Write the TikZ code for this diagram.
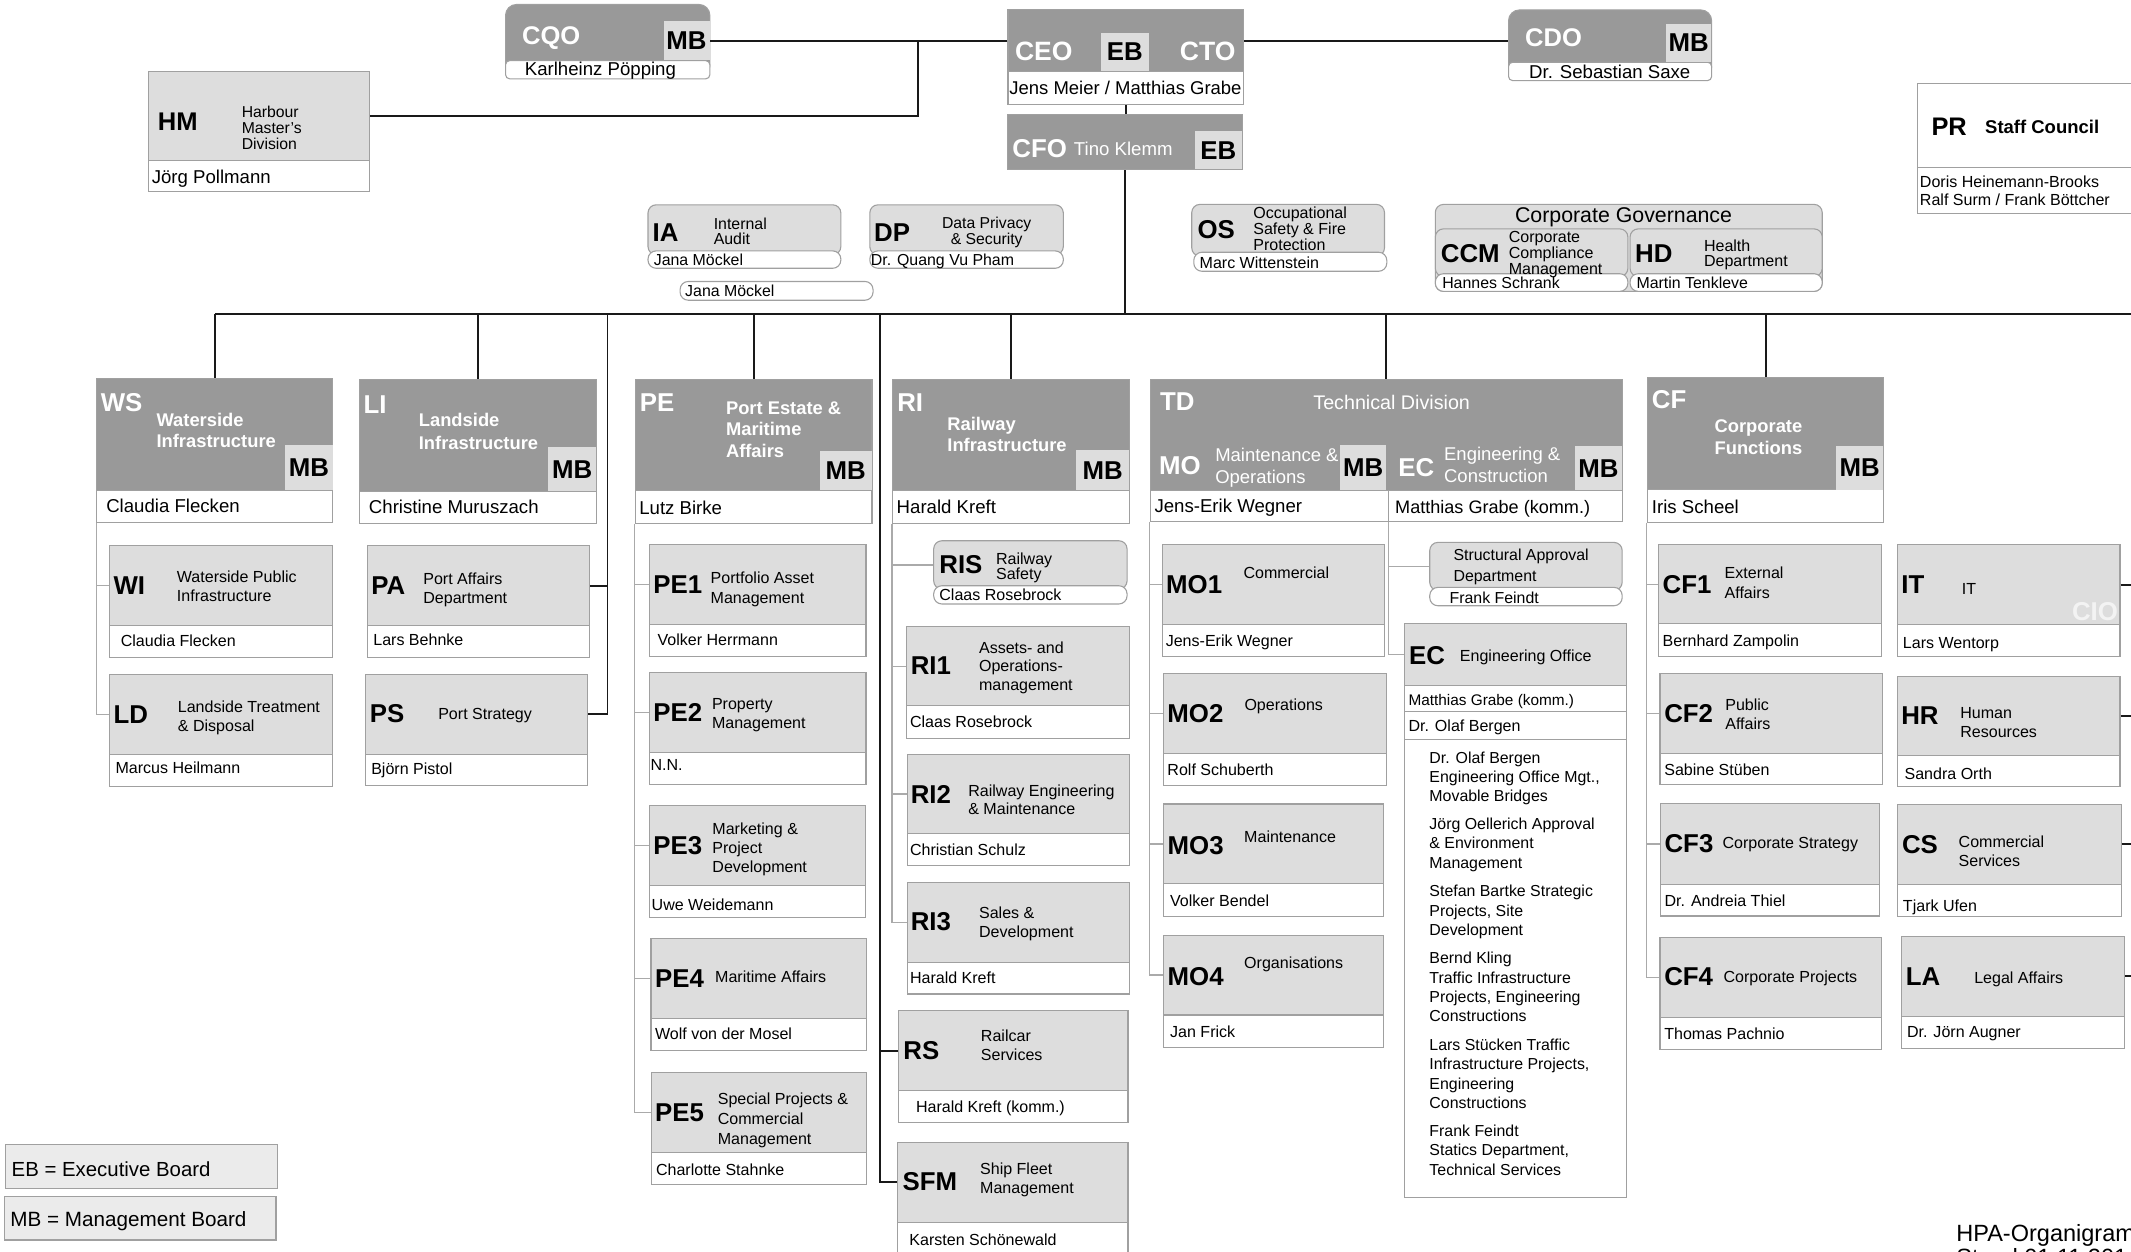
\documentclass[tikz,border=0pt]{standalone}
\usepackage{fontspec}
\setmainfont{Liberation Sans}
\definecolor{hdr}{RGB}{153,153,153}
\definecolor{lt}{RGB}{221,221,221}
\definecolor{mbc}{RGB}{221,221,221}
\definecolor{bd}{RGB}{160,160,160}
\definecolor{lg}{RGB}{235,235,235}
\definecolor{ln}{RGB}{25,25,25}
\definecolor{sl}{RGB}{170,170,170}
\definecolor{cio}{RGB}{243,243,243}
\tikzset{
 hdrbox/.style={draw=bd, fill=hdr, line width=0.8pt},
 ltbox/.style={draw=bd, fill=lt, line width=0.8pt},
 wbox/.style={draw=bd, fill=white, line width=0.8pt},
 mbbox/.style={fill=mbc, draw=none},
 legbox/.style={draw=bd, fill=lg, line width=0.8pt},
 mainline/.style={draw=ln, line width=1.4pt},
 subline/.style={draw=sl, line width=0.9pt},
 lbl/.style={inner sep=0pt, font={\fontsize{19}{19}\selectfont\bfseries}},
}
\newcommand\B[6]{\node[#6, anchor=north west, inner sep=0pt, minimum width={#4-#2}, minimum height={#5-#3}] (#1) at (#2,#3) {};}
\newcommand\T[7]{\node[anchor=north west, inner sep=0pt, align=left, font={\fontsize{#4}{#5}\selectfont}, #6] (#1) at (#2,{#3-0.36*#4}) {#7};}
\newcommand\myU[6]{\B{#1h}{#2}{#3}{#5}{#4}{ltbox}\B{#1n}{#2}{#4}{#5}{#6}{wbox}}
\newcommand\myD[6]{\B{#1h}{#2}{#3}{#5}{#4}{hdrbox}\B{#1n}{#2}{#4}{#5}{#6}{wbox}}
\newcommand\myC[4]{\T{#1}{#2}{#3}{19}{19}{}{\bfseries #4}}
\newcommand\myCw[4]{\T{#1}{#2}{#3}{19}{19}{text=white}{\bfseries #4}}
\newcommand\myTi[5]{\T{#1}{#2}{#3}{11.8}{#4}{}{#5}}
\newcommand\myNm[4]{\T{#1}{#2}{#3}{11.8}{12}{}{#4}}
\begin{document}
\begin{tikzpicture}[x=1pt,y=-1pt]
\useasboundingbox (0,0) rectangle (1568,921);
\fill[white] (0,0) rectangle (1568,921);
\clip (0,0) rectangle (1568,921);

% ---------- top row ----------
\B{CQOh}{371.6}{2.9}{521.9}{56}{hdrbox, rounded corners=8pt}
\B{CQOn}{371.6}{44.2}{521.9}{57.6}{wbox, rounded corners=3pt}
\B{CQOmb}{488}{15.5}{521.9}{44.2}{mbbox}
\T{CQOc}{384}{26.5}{18.8}{19}{text=white}{\bfseries CQO}
\node[lbl] (CQOmbt) at (CQOmb.center) {MB};
\T{CQOp}{386}{50.3}{13.7}{14}{}{Karlheinz Pöpping}

\B{CEOh}{741.3}{6.9}{914.6}{52}{hdrbox}
\B{CEOn}{741.3}{52}{914.6}{76.8}{wbox}
\B{CEOeb}{810}{23.8}{845}{52}{mbbox}
\T{CEOc}{746.7}{38}{19.5}{20}{text=white}{\bfseries CEO}
\T{CTOc}{868}{38}{19.5}{20}{text=white}{\bfseries CTO}
\node[lbl] (CEOebt) at (CEOeb.center) {EB};
\T{CEOp}{742.5}{64.5}{13.6}{14}{}{Jens Meier / Matthias Grabe}

\B{CFOh}{741}{83.9}{913.6}{124.4}{hdrbox}
\B{CFOeb}{879}{96.4}{913.6}{124.4}{mbbox}
\T{CFOc}{744.7}{109}{19}{19}{text=white}{\bfseries CFO}
\T{CFOp}{790}{109}{13.7}{14}{text=white}{Tino Klemm}
\node[lbl] (CFOebt) at (CFOeb.center) {EB};

\B{CDOh}{1109.6}{6.9}{1259}{57}{hdrbox, rounded corners=8pt}
\B{CDOn}{1109.6}{45.4}{1259}{58.9}{wbox, rounded corners=3pt}
\B{CDOmb}{1225.5}{17.2}{1259}{45.4}{mbbox}
\T{CDOc}{1122}{27.5}{18.8}{19}{text=white}{\bfseries CDO}
\node[lbl] (CDOmbt) at (CDOmb.center) {MB};
\T{CDOp}{1125}{52.7}{13.7}{14}{}{Dr. Sebastian Saxe}

\B{HMh}{108.8}{52.5}{271.3}{117.7}{ltbox}
\B{HMn}{108.8}{117.7}{271.3}{140.6}{wbox}
\T{HMc}{116}{89.5}{18.8}{19}{}{\bfseries HM}
\T{HMt}{177.7}{82.2}{11.6}{11.75}{}{Harbour\\Master’s\\Division}
\T{HMp}{111.5}{130}{13.7}{14}{}{Jörg Pollmann}

\B{PRh}{1410.7}{61.3}{1600}{122.7}{wbox}
\B{PRn}{1410.7}{122.7}{1600}{157}{wbox}
\T{PRc}{1421}{93.2}{18.7}{19}{}{\bfseries PR}
\T{PRt}{1460.5}{93.2}{13.6}{14}{}{\bfseries Staff Council}
\T{PRp}{1412.5}{133.2}{11.8}{13.5}{}{Doris Heinemann-Brooks\\Ralf Surm / Frank Böttcher}

% ---------- staff units ----------
\B{IAh}{476.4}{150.3}{618.3}{187}{ltbox, rounded corners=6pt}
\B{IAn}{476.4}{184.2}{618.3}{197}{wbox, rounded corners=6pt}
\T{IAc}{480}{171}{19}{19}{}{\bfseries IA}
\T{IAt}{525}{164.5}{11.7}{11.1}{}{Internal\\Audit}
\T{IAp}{480.9}{190.8}{11.7}{12}{}{Jana Möckel}

\B{DPh}{639.6}{150.3}{782}{187}{ltbox, rounded corners=6pt}
\B{DPn}{639.6}{184.2}{782}{197}{wbox, rounded corners=6pt}
\T{DPc}{643}{171}{19}{19}{}{\bfseries DP}
\T{DPt}{726}{163.8}{11.6}{11.8}{anchor=north, align=center}{Data Privacy\\\& Security}
\T{DPp}{640.6}{190.8}{11.7}{12}{}{Dr. Quang Vu Pham}

\B{IAtwo}{500}{206.7}{642}{220.5}{wbox, rounded corners=6pt}
\T{IAtwop}{504}{213.6}{11.7}{12}{}{Jana Möckel}

\B{OSh}{876.5}{150}{1018.3}{188}{ltbox, rounded corners=6pt}
\B{OSn}{878}{185.2}{1020}{199.2}{wbox, rounded corners=6pt}
\T{OSc}{881}{168.5}{19}{19}{}{\bfseries OS}
\T{OSt}{922}{156.5}{11.8}{11.7}{}{Occupational\\Safety \& Fire\\Protection}
\T{OSp}{882.5}{193.3}{11.8}{12}{}{Marc Wittenstein}

\B{CGh}{1055.7}{150}{1340.4}{214}{ltbox, rounded corners=6pt}
\T{CGt}{1194.6}{158.2}{15.7}{16}{anchor=north}{Corporate Governance}
\B{CCMh}{1055.7}{168}{1197.4}{203}{ltbox, rounded corners=6pt}
\B{CCMn}{1055.7}{201}{1197.4}{214}{wbox, rounded corners=6pt}
\B{HDh}{1199}{168}{1340.4}{203}{ltbox, rounded corners=6pt}
\B{HDn}{1199}{201}{1340.4}{214}{wbox, rounded corners=6pt}
\T{CCMc}{1060}{186.4}{19}{19}{}{\bfseries CCM}
\T{CCMt}{1110}{174}{11.8}{11.75}{}{Corporate\\Compliance\\Management}
\T{HDc}{1203}{186.4}{19}{19}{}{\bfseries HD}
\T{HDt}{1253.6}{180.3}{11.8}{11.5}{}{Health\\Department}
\T{CCMp}{1061}{208}{11.7}{12}{}{Hannes Schrank}
\T{HDp}{1204}{208}{11.7}{12}{}{Martin Tenkleve}

% ---------- divisions ----------
\myD{WS}{70.8}{277.8}{360.7}{244.5}{384}
\B{WSmb}{209.6}{327.5}{244.5}{360.7}{mbbox}
\myCw{WSc}{74}{296.4}{WS}
\T{WSt}{115}{308.4}{13.5}{16}{text=white}{\bfseries Waterside\\\bfseries Infrastructure}
\node[lbl] (WSmbt) at (WSmb.center) {MB};
\T{WSp}{78}{372.2}{13.7}{14}{}{Claudia Flecken}

\myD{LI}{264}{278.5}{361.4}{438.2}{385}
\B{LImb}{403.3}{328.8}{438.2}{361.4}{mbbox}
\myCw{LIc}{267.4}{298}{LI}
\T{LIt}{308}{309}{13.5}{16.8}{text=white}{\bfseries Landside\\\bfseries Infrastructure}
\node[lbl] (LImbt) at (LImb.center) {MB};
\T{LIp}{271.3}{373}{13.7}{14}{}{Christine Muruszach}

\myD{PE}{467}{278.5}{360.7}{641.2}{384.5}
\B{PEmb}{603}{331.7}{641.2}{360.7}{mbbox}
\myCw{PEc}{470.7}{296.4}{PE}
\T{PEt}{534}{300.6}{13.5}{15.5}{text=white}{\bfseries Port Estate \&\\\bfseries Maritime\\\bfseries Affairs}
\node[lbl] (PEmbt) at (PEmb.center) {MB};
\T{PEp}{470.2}{373.4}{13.7}{14}{}{Lutz Birke}

\myD{RI}{656.4}{278.5}{360.7}{830.6}{384.5}
\B{RImb}{791.6}{331.2}{830.6}{360.7}{mbbox}
\myCw{RIc}{660}{296.4}{RI}
\T{RIt}{696.9}{311.6}{13.5}{15.4}{text=white}{\bfseries Railway\\\bfseries Infrastructure}
\node[lbl] (RImbt) at (RImb.center) {MB};
\T{RIp}{659.6}{373}{13.7}{14}{}{Harald Kreft}

\B{TDh}{846}{278.5}{1193.2}{360.2}{hdrbox}
\B{MOn}{846}{360.2}{1021.5}{383.2}{wbox}
\B{ECn}{1021.5}{360.2}{1193.2}{383.2}{wbox}
\B{MOmb}{986}{327.5}{1019.5}{360.2}{mbbox}
\B{ECmb}{1158.8}{328.3}{1193.2}{360.2}{mbbox}
\myCw{TDc}{853.4}{295.7}{TD}
\T{TDt}{1024}{295.7}{14.5}{15}{text=white, anchor=north}{Technical Division}
\myCw{MOc}{852.7}{342.3}{MO}
\T{MOt}{894}{334.2}{13.6}{16.7}{text=white}{Maintenance \&\\Operations}
\node[lbl] (MOmbt) at (MOmb.center) {MB};
\myCw{ECc}{1028.8}{344}{EC}
\T{ECt}{1062.4}{333.7}{13.6}{15.9}{text=white}{Engineering \&\\Construction}
\node[lbl] (ECmbt) at (ECmb.center) {MB};
\T{MOp}{849.3}{372.2}{13.7}{14}{}{Jens-Erik Wegner}
\T{ECp}{1026.4}{373}{13.3}{14}{}{Matthias Grabe (komm.)}

\myD{CF}{1211.6}{277.6}{360}{1385.8}{383.8}
\B{CFmb}{1351}{328}{1385.3}{360}{mbbox}
\myCw{CFc}{1215.3}{294.3}{CF}
\T{CFt}{1261.4}{313.4}{13.5}{16}{text=white}{\bfseries Corporate\\\bfseries Functions}
\node[lbl] (CFmbt) at (CFmb.center) {MB};
\T{CFp}{1215.3}{372.8}{13.7}{14}{}{Iris Scheel}

% ---------- WS / LI units ----------
\myU{WI}{80.5}{401}{460}{244.5}{483.3}
\myC{WIc}{83.4}{431.3}{WI}
\myTi{WIt}{130}{424.4}{14}{Waterside Public\\Infrastructure}
\myNm{WIp}{88.7}{471.5}{Claudia Flecken}

\myU{LD}{80.5}{496}{554.5}{244.5}{578.5}
\myC{LDc}{83.4}{526}{LD}
\myTi{LDt}{130.7}{520}{14}{Landside Treatment\\\& Disposal}
\myNm{LDp}{84.8}{564.8}{Marcus Heilmann}

\myU{PA}{269.8}{401}{460}{433.5}{483.3}
\myC{PAc}{273}{431}{PA}
\myTi{PAt}{311.3}{425.7}{14}{Port Affairs\\Department}
\myNm{PAp}{274.5}{470.6}{Lars Behnke}

\myU{PS}{268.5}{495.6}{554.5}{432.2}{577.8}
\myC{PSc}{272}{525}{PS}
\myTi{PSt}{322.3}{525.5}{14}{Port Strategy}
\myNm{PSp}{273}{565.5}{Björn Pistol}

% ---------- PE units ----------
\myU{PE1}{477.6}{400}{458.8}{636.8}{482.6}
\myC{PE1c}{480.5}{430.6}{PE1}
\myTi{PE1t}{522.7}{425}{14.2}{Portfolio Asset\\Management}
\myNm{PE1p}{483.7}{470.6}{Volker Herrmann}

\myU{PE2}{477.6}{494.4}{553.2}{636.8}{576.5}
\myC{PE2c}{480.5}{524.5}{PE2}
\myTi{PE2t}{523.7}{517.7}{13.9}{Property\\Management}
\myNm{PE2p}{478.5}{563}{N.N.}

\myU{PE3}{477.6}{592.4}{651.3}{636.3}{674.6}
\myC{PE3c}{480.5}{622.3}{PE3}
\myTi{PE3t}{524}{609.6}{14.1}{Marketing \&\\Project\\Development}
\myNm{PE3p}{479.3}{665.3}{Uwe Weidemann}

\myU{PE4}{478.6}{690}{749}{637.5}{772.7}
\myC{PE4c}{481.8}{720}{PE4}
\myTi{PE4t}{526}{718.7}{14}{Maritime Affairs}
\myNm{PE4p}{481.8}{760.4}{Wolf von der Mosel}

\myU{PE5}{478.8}{788.6}{847.5}{637.5}{871.3}
\myC{PE5c}{481.8}{818.8}{PE5}
\myTi{PE5t}{528}{808.3}{14.5}{Special Projects \&\\Commercial\\Management}
\myNm{PE5p}{482.5}{860.5}{Charlotte Stahnke}

% ---------- RI units ----------
\B{RISh}{686.6}{397.5}{828.9}{433}{ltbox, rounded corners=6pt}
\B{RISn}{686.6}{430.6}{828.9}{444}{wbox, rounded corners=6pt}
\myC{RISc}{691}{415}{RIS}
\T{RISt}{732.7}{410.5}{11.8}{11.5}{}{Railway\\Safety}
\myNm{RISp}{691}{437.4}{Claas Rosebrock}

\myU{RI1}{666.5}{460.5}{519}{830.8}{542.7}
\myC{RI1c}{670}{490.2}{RI1}
\myTi{RI1t}{720.2}{476}{13.85}{Assets- and\\Operations-\\management}
\myNm{RI1p}{669.4}{531}{Claas Rosebrock}

\myU{RI2}{667}{554.5}{613.2}{830.8}{636.6}
\myC{RI2c}{670}{584.3}{RI2}
\myTi{RI2t}{712.3}{581.4}{13.5}{Railway Engineering\\\& Maintenance}
\myNm{RI2p}{669.4}{625}{Christian Schulz}

\myU{RI3}{667}{648.8}{707.7}{830.8}{731}
\myC{RI3c}{670}{678.3}{RI3}
\myTi{RI3t}{720.2}{671.4}{14.2}{Sales \&\\Development}
\myNm{RI3p}{669.4}{719.2}{Harald Kreft}

\myU{RS}{660.8}{743.3}{802}{829.6}{825.4}
\myC{RSc}{664.5}{773.2}{RS}
\myTi{RSt}{721.6}{761.6}{14.3}{Railcar\\Services}
\myNm{RSp}{673.8}{814.4}{Harald Kreft (komm.)}

\myU{SFM}{660.3}{840}{899}{829.6}{935}
\myC{SFMc}{664}{869.6}{SFM}
\myTi{SFMt}{721}{859.8}{14}{Ship Fleet\\Management}
\myNm{SFMp}{669}{912}{Karsten Schönewald}

% ---------- MO units ----------
\myU{MO1}{854.7}{400.4}{459.3}{1018.5}{482.6}
\myC{MO1c}{857.9}{429.8}{MO1}
\myTi{MO1t}{914.8}{421.3}{14}{Commercial}
\myNm{MO1p}{857.6}{471.5}{Jens-Erik Wegner}

\myU{MO2}{855.9}{495}{554}{1019.5}{577.3}
\myC{MO2c}{858.8}{525}{MO2}
\myTi{MO2t}{915.5}{518.4}{14}{Operations}
\myNm{MO2p}{858.8}{566.2}{Rolf Schuberth}

\myU{MO3}{855.9}{591.2}{650}{1017.3}{673.8}
\myC{MO3c}{859}{621.8}{MO3}
\myTi{MO3t}{915.3}{615.7}{14}{Maintenance}
\myNm{MO3p}{860.8}{662.8}{Volker Bendel}

\myU{MO4}{855.9}{687.6}{746.4}{1017.3}{770.2}
\myC{MO4c}{859}{718.2}{MO4}
\myTi{MO4t}{915.3}{708.4}{14}{Organisations}
\myNm{MO4p}{860.8}{759.2}{Jan Frick}

% ---------- EC units ----------
\B{SADh}{1051.6}{398.7}{1193.2}{434}{ltbox, rounded corners=6pt}
\B{SADn}{1051.6}{431.8}{1193.2}{445.3}{wbox, rounded corners=6pt}
\T{SADt}{1069.3}{408}{11.7}{15.2}{}{Structural Approval\\Department}
\T{SADp}{1066.4}{439.6}{11.7}{12}{}{Frank Feindt}

\B{EOh}{1033}{458.3}{1196.4}{504.2}{ltbox}
\B{EOr}{1033}{504.2}{1196.4}{523.3}{wbox}
\B{EOs}{1033}{523.3}{1196.4}{543.4}{wbox}
\B{EOl}{1033}{543.4}{1196.4}{880.6}{wbox}
\myC{EOc}{1036.7}{482}{EC}
\myTi{EOt}{1074}{482}{14}{Engineering Office}
\T{EOpa}{1036.2}{514.7}{11.3}{12}{}{Matthias Grabe (komm.)}
\myNm{EOpb}{1036.2}{534}{Dr. Olaf Bergen}
\T{EOla}{1051.6}{557}{11.7}{14.2}{}{Dr. Olaf Bergen\\Engineering Office Mgt.,\\Movable Bridges}
\T{EOlb}{1051.6}{605.9}{11.7}{14.2}{}{Jörg Oellerich Approval\\\& Environment\\Management}
\T{EOlc}{1051.6}{655.4}{11.7}{14.2}{}{Stefan Bartke Strategic\\Projects, Site\\Development}
\T{EOld}{1051.6}{704.7}{11.7}{14.2}{}{Bernd Kling\\Traffic Infrastructure\\Projects, Engineering\\Constructions}
\T{EOle}{1051.6}{768.5}{11.7}{14.2}{}{Lars Stücken Traffic\\Infrastructure Projects,\\Engineering\\Constructions}
\T{EOlf}{1051.6}{831.6}{11.7}{14.4}{}{Frank Feindt\\Statics Department,\\Technical Services}

% ---------- CF units ----------
\myU{CF1}{1220.2}{400.3}{458.7}{1384}{482.7}
\myC{CF1c}{1223.2}{430.4}{CF1}
\myTi{CF1t}{1268.8}{421.4}{14.4}{External\\Affairs}
\myNm{CF1p}{1223.2}{471.4}{Bernhard Zampolin}

\myU{CF2}{1221}{495}{553.8}{1385}{577}
\myC{CF2c}{1224.4}{524.9}{CF2}
\myTi{CF2t}{1269.3}{518}{14.2}{Public\\Affairs}
\myNm{CF2p}{1224.4}{565.9}{Sabine Stüben}

\myU{CF3}{1221.4}{590.9}{650.3}{1382.6}{673.6}
\myC{CF3c}{1224.6}{620.8}{CF3}
\myTi{CF3t}{1267.3}{620.3}{14}{Corporate Strategy}
\myNm{CF3p}{1224.6}{662.8}{Dr. Andreia Thiel}

\myU{CF4}{1221}{689.5}{748.4}{1383.8}{771.9}
\myC{CF4c}{1224.4}{718.4}{CF4}
\myTi{CF4t}{1268}{718.4}{14}{Corporate Projects}
\myNm{CF4p}{1224.4}{760}{Thomas Pachnio}

\myU{IT}{1395.6}{400.5}{459.4}{1559.5}{482.7}
\myC{ITc}{1398.8}{430.4}{IT}
\myTi{ITt}{1443.4}{433}{14}{IT}
\T{CIOc}{1524.4}{449.6}{19}{19}{text=cio}{\bfseries CIO}
\myNm{ITp}{1400}{473.4}{Lars Wentorp}

\myU{HR}{1395.6}{497.2}{555.6}{1559.5}{578.6}
\myC{HRc}{1398.8}{526.9}{HR}
\myTi{HRt}{1442.2}{524.9}{14}{Human\\Resources}
\myNm{HRp}{1401.2}{568.8}{Sandra Orth}

\myU{CS}{1396}{591.4}{650.3}{1560.4}{673.8}
\myC{CSc}{1399.3}{621.6}{CS}
\myTi{CSt}{1441}{619.1}{13.9}{Commercial\\Services}
\myNm{CSp}{1400}{666.2}{Tjark Ufen}

\myU{LA}{1398.8}{688.5}{747.4}{1562.9}{771.2}
\myC{LAc}{1402.2}{719}{LA}
\myTi{LAt}{1452.5}{719}{14}{Legal Affairs}
\myNm{LAp}{1403}{759}{Dr. Jörn Augner}

% ---------- legend / footer ----------
\B{EBl}{3.9}{841.9}{203.6}{873.8}{legbox}
\T{EBlt}{8.4}{859.8}{15}{15}{}{EB = Executive Board}
\B{MBl}{3}{879.9}{202.7}{912}{legbox}
\T{MBlt}{7.5}{896.6}{15.2}{15}{}{MB = Management Board}
\T{foot}{1439.3}{906.8}{17.3}{17.5}{}{HPA-Organigram\\Stand 01.11.201}

% ---------- connectors ----------
\coordinate (busY) at (0,230.8);
\coordinate (busR) at (1600,230.8);
\coordinate (hmx) at (675.5,0);
\coordinate (pax) at (447,0);
\coordinate (rsx) at (647.3,0);
\coordinate (edgeR) at (1600,0);

\draw[mainline] (CEOh.west) -- (CEOh.west -| CQOh.east);
\draw[mainline] (CEOh.west -| hmx) |- (HMh.east);
\draw[mainline] (CEOh.east) -- (CEOh.east -| CDOh.west);
\draw[mainline] (CEOn.south) -- (CEOn.south |- CFOh.north);
\draw[mainline] (CFOh.south) -- (CFOh.south |- busY);
\draw[mainline] (WSh.north |- busY) -- (busR);
\draw[mainline] (WSh.north) -- (WSh.north |- busY);
\draw[mainline] (LIh.north) -- (LIh.north |- busY);
\draw[mainline] (PEh.north) -- (PEh.north |- busY);
\draw[mainline] (RIh.north) -- (RIh.north |- busY);
\draw[mainline] (TDh.north) -- (TDh.north |- busY);
\draw[mainline] (CFh.north) -- (CFh.north |- busY);
\draw[mainline] (pax |- busY) |- (PSh.east);
\draw[mainline] (PAh.east) -- (PAh.east -| pax);
\draw[mainline] (rsx |- busY) |- (SFMh.west);
\draw[mainline] (RSh.west) -- (RSh.west -| rsx);
\draw[mainline] (ITh.east) -- (ITh.east -| edgeR);
\draw[mainline] (HRh.east) -- (HRh.east -| edgeR);
\draw[mainline] (CSh.east) -- (CSh.east -| edgeR);
\draw[mainline] (LAh.east) -- (LAh.east -| edgeR);

\draw[subline] (WSn.south west) |- (LDh.west);
\draw[subline] (WSn.south west |- WIh.west) -- (WIh.west);
\draw[subline] (PEn.south west) |- (PE5h.west);
\draw[subline] (PEn.south west |- PE1h.west) -- (PE1h.west);
\draw[subline] (PEn.south west |- PE2h.west) -- (PE2h.west);
\draw[subline] (PEn.south west |- PE3h.west) -- (PE3h.west);
\draw[subline] (PEn.south west |- PE4h.west) -- (PE4h.west);
\draw[subline] (RIn.south west) |- (RI3h.west);
\draw[subline] (RIn.south west |- RISh.west) -- (RISh.west);
\draw[subline] (RIn.south west |- RI1h.west) -- (RI1h.west);
\draw[subline] (RIn.south west |- RI2h.west) -- (RI2h.west);
\draw[subline] (MOn.south west) |- (MO4h.west);
\draw[subline] (MOn.south west |- MO1h.west) -- (MO1h.west);
\draw[subline] (MOn.south west |- MO2h.west) -- (MO2h.west);
\draw[subline] (MOn.south west |- MO3h.west) -- (MO3h.west);
\draw[subline] (ECn.south west) |- (EOh.west);
\draw[subline] (ECn.south west |- SADh.west) -- (SADh.west);
\draw[subline] (CFn.south west) |- (CF4h.west);
\draw[subline] (CFn.south west |- CF1h.west) -- (CF1h.west);
\draw[subline] (CFn.south west |- CF2h.west) -- (CF2h.west);
\draw[subline] (CFn.south west |- CF3h.west) -- (CF3h.west);
\end{tikzpicture}
\end{document}
